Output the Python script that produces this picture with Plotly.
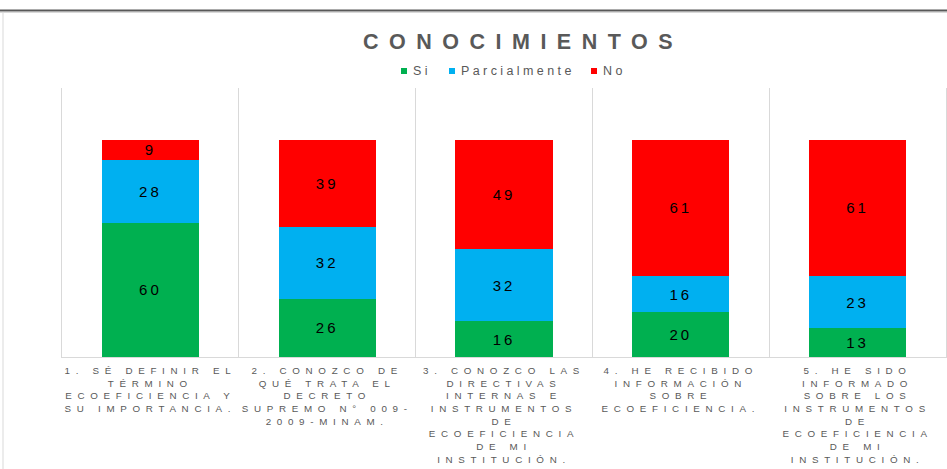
import plotly.graph_objects as go

# Data
categories = [
    "1. SÉ DEFINIR EL<br>TÉRMINO<br>ECOEFICIENCIA Y<br>SU IMPORTANCIA.",
    "2. CONOZCO DE<br>QUÉ TRATA EL<br>DECRETO<br>SUPREMO N° 009-<br>2009-MINAM.",
    "3. CONOZCO LAS<br>DIRECTIVAS<br>INTERNAS E<br>INSTRUMENTOS<br>DE<br>ECOEFICIENCIA<br>DE MI<br>INSTITUCIÓN.",
    "4. HE RECIBIDO<br>INFORMACIÓN<br>SOBRE<br>ECOEFICIENCIA.",
    "5. HE SIDO<br>INFORMADO<br>SOBRE LOS<br>INSTRUMENTOS<br>DE<br>ECOEFICIENCIA<br>DE MI<br>INSTITUCIÓN.",
]
si = [60, 26, 16, 20, 13]
parcialmente = [28, 32, 32, 16, 23]
no = [9, 39, 49, 61, 61]

series_names = ["Si", "Parcialmente", "No"]
series_values = [si, parcialmente, no]
series_colors = ["#00B050", "#00B0F0", "#FF0000"]

W, H = 947, 469
L, R, T, B = 62, 1, 88, 112
pw, ph = W - L - R, H - T - B
FONT = "Liberation Sans, Arial"


def px_x(x):
    return (x - L) / pw


def px_y(y):
    return (H - B - y) / ph


fig = go.Figure()
for name, vals, color in zip(series_names, series_values, series_colors):
    fig.add_trace(go.Bar(
        x=categories, y=vals, name=name,
        marker=dict(color=color, line=dict(width=0)),
        text=vals, texttemplate="%{text}",
        textposition="inside", insidetextanchor="middle", textangle=0,
        textfont=dict(color="black", size=15, family=FONT),
        constraintext="none", showlegend=False,
    ))

# legend drawn by hand so the small squares sit close to their labels
legend_sq_x = [401, 449, 591]
shapes = []
annotations = []
for name, color, sx in zip(series_names, series_colors, legend_sq_x):
    shapes.append(dict(type="rect", xref="paper", yref="paper",
                       x0=px_x(sx), x1=px_x(sx + 6), y0=px_y(74), y1=px_y(68),
                       fillcolor=color, line=dict(width=0)))
    annotations.append(dict(text=name, xref="paper", yref="paper",
                            x=px_x(sx + 10), y=px_y(71), xanchor="left", yanchor="middle",
                            align="left", showarrow=False,
                            font=dict(size=12.5, color="#595959", family=FONT)))

# chart frame lines
shapes += [
    dict(type="line", xref="paper", yref="paper",
         x0=px_x(0), x1=px_x(W), y0=px_y(10.5), y1=px_y(10.5),
         line=dict(color="#595959", width=2)),
    dict(type="line", xref="paper", yref="paper",
         x0=px_x(0), x1=px_x(W), y0=px_y(12.5), y1=px_y(12.5),
         line=dict(color="#D9D9D9", width=1)),
    dict(type="line", xref="paper", yref="paper",
         x0=px_x(3), x1=px_x(3), y0=px_y(12), y1=px_y(H),
         line=dict(color="#D9D9D9", width=1)),
]

fig.update_layout(
    barmode="stack", bargap=0.45,
    width=W, height=H,
    margin=dict(l=L, r=R, t=T, b=B),
    paper_bgcolor="white", plot_bgcolor="white",
    font=dict(family=FONT, color="#595959"),
    uniformtext=dict(minsize=15, mode="show"),
    showlegend=False,
    title=dict(
        text="<b>CONOCIMIENTOS</b>",
        x=523 / W, xanchor="center",
        y=1 - 41 / H, yanchor="middle", yref="container",
        font=dict(size=21.5, color="#595959", family=FONT),
    ),
    xaxis=dict(
        type="category", tickson="boundaries", automargin=False,
        showgrid=True, gridcolor="#D9D9D9", gridwidth=1,
        showline=True, linecolor="#D9D9D9", linewidth=1,
        ticks="", tickangle=0, ticklabelstandoff=4,
        tickfont=dict(size=9.8, color="#595959", family=FONT),
    ),
    yaxis=dict(
        range=[0, 120], showgrid=False, showticklabels=False,
        zeroline=False, showline=True, mirror=True,
        linecolor="#D9D9D9", linewidth=1, automargin=False,
    ),
    shapes=shapes,
    annotations=annotations,
)

# drop the page margin and widen letter spacing like the original Excel chart
spacing_js = """
document.body.style.margin = '0';
var gd = document.getElementById('{plot_id}');
function sp(){
  gd.querySelectorAll('.xtick text').forEach(function(t){t.style.letterSpacing='5.7px';});
  gd.querySelectorAll('.gtitle').forEach(function(t){t.style.letterSpacing='10.5px';});
  gd.querySelectorAll('.bartext').forEach(function(t){t.style.letterSpacing='3px';});
  gd.querySelectorAll('.annotation-text').forEach(function(t){t.style.letterSpacing='3.4px';});
}
sp();
gd.on('plotly_afterplot', sp);
"""

fig.write_html("out.html", post_script=spacing_js, config={"displayModeBar": False})
